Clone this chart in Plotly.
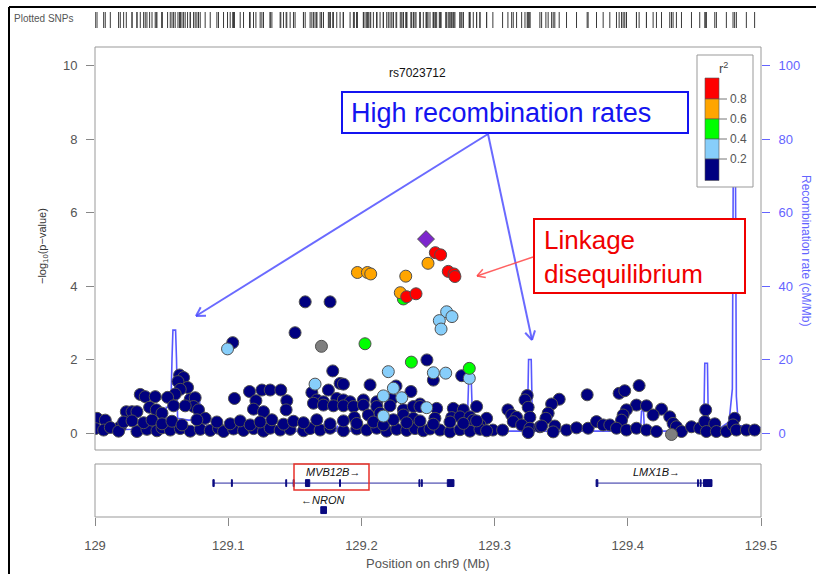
import plotly.graph_objects as go

W, H = 816, 574
FONT = "Liberation Sans, Arial, sans-serif"

# ---------------- data ----------------
navy_pos = [
    129.1578, 129.1765, 129.1502, 129.1034, 129.2492, 129.1785, 129.2753, 129.2540,
    129.0635, 129.0665, 129.0623, 129.0695, 129.0640, 129.0602,
    129.1752, 129.1840, 129.1865, 129.2065, 129.2260, 129.2372,
    129.1160, 129.1253, 129.1315, 129.1395, 129.1047, 129.1208, 129.1440,
    129.1190, 129.1265, 129.1435, 129.1628,
    129.0340, 129.0377, 129.0452, 129.0235, 129.0278, 129.0315,
    129.0410, 129.0460, 129.0503, 129.0715, 129.0752, 129.0740, 129.0777,
    129.0827, 129.0015, 129.0077, 129.0190, 129.0315,
    129.0545, 129.0590, 129.0677,
    129.1665, 129.1715, 129.1815, 129.1865, 129.1915, 129.2015, 129.2115, 129.2228, 129.2440,
    129.1640, 129.1715, 129.1790, 129.1865, 129.1940, 129.2015, 129.2115, 129.2215, 129.2315,
    129.2390, 129.2440, 129.2565, 129.2690, 129.2765, 129.2865, 129.2940,
    129.1947, 129.2052, 129.2140, 129.2315, 129.2390, 129.2552, 129.2678, 129.2740, 129.2815,
    129.2890, 129.2840, 129.2987, 129.3060, 129.3100, 129.3128, 129.3165, 129.3140,
    129.3245, 129.3228, 129.3252, 129.3265, 129.3203, 129.3265, 129.3340, 129.3252,
    129.3485, 129.3428, 129.3402, 129.3385, 129.3353, 129.3452, 129.3440,
    129.3540, 129.3615, 129.3702, 129.3765, 129.3815, 129.3865, 129.3695,
    129.3935, 129.3977, 129.4085, 129.4065, 129.4140, 129.3990, 129.3965, 129.3953,
    129.4253, 129.4190, 129.4315, 129.4340, 129.4365,
    129.3915, 129.3990, 129.4065, 129.4140, 129.4215, 129.4403, 129.4478, 129.4540,
    129.4585, 129.4578, 129.4653, 129.4590, 129.4665, 129.4740, 129.4802, 129.4790,
    129.4815, 129.4890, 129.4952,
    # bottom row
    129.0002, 129.0065, 129.0115, 129.0177, 129.0390, 129.0465, 129.0503, 129.0565,
    129.0640, 129.0715, 129.0790, 129.0865, 129.0927, 129.0965, 129.1040, 129.1115,
    129.1190, 129.1265, 129.1315, 129.1390, 129.1465, 129.1565, 129.1615, 129.1690,
    129.1765, 129.1865, 129.1965, 129.2040, 129.2115, 129.2190, 129.2265, 129.2340,
    129.2402, 129.2465, 129.2515, 129.2590, 129.2665, 129.2740, 129.2815, 129.2890,
    129.2940,
    # second row
    129.0215, 129.0278, 129.0365, 129.0428, 129.0503, 129.0578, 129.0653, 129.0765,
    129.0915, 129.1015, 129.1090, 129.1165, 129.1240, 129.1328, 129.1415, 129.1490,
    129.1565, 129.1665, 129.1765, 129.1865, 129.1965, 129.2090, 129.2165, 129.2240,
    129.2340, 129.2440, 129.2540, 129.2665, 129.2765, 129.2865,
]
navy_logp = [
    3.57, 3.57, 2.73, 2.46, 1.99, 1.69, 1.56, 1.44,
    1.58, 1.51, 1.40, 1.24, 1.19, 1.06,
    1.17, 1.35, 1.33, 1.31, 1.28, 1.13,
    1.13, 1.17, 1.17, 1.17, 0.94, 0.88, 0.88,
    0.65, 0.58, 0.63, 1.10,
    1.05, 0.99, 0.99, 0.58, 0.58, 0.58,
    0.70, 0.63, 0.54, 0.92, 0.96, 0.72, 0.63,
    0.40, 0.40, 0.35, 0.17, 0.04,
    0.97, 0.74, 0.74,
    0.90, 0.85, 0.94, 0.90, 0.85, 0.90, 0.85, 0.92, 0.79,
    0.81, 0.76, 0.74, 0.74, 0.72, 0.76, 0.72, 0.74, 0.63,
    0.72, 0.72, 0.67, 0.67, 0.63, 0.72, 0.40,
    0.42, 0.49, 0.54, 0.49, 0.40, 0.40, 0.42, 0.44, 0.44,
    0.22, 0.35, 0.08, 0.08, 0.63, 0.49, 0.43, 0.31,
    1.02, 0.90, 0.70, 0.43, 0.22, 0.13, 0.17, 0.01,
    0.92, 0.79, 0.54, 0.40, 0.19, 0.19, 0.03,
    0.08, 0.14, 0.13, 0.31, 0.22, 0.22, 1.04,
    1.08, 1.15, 1.29, 0.76, 0.74, 0.63, 0.49, 0.35,
    0.65, 0.49, 0.44, 0.26, 0.17,
    0.13, 0.08, 0.13, 0.08, 0.04, 0.04, 0.17, 0.13,
    0.63, 0.31, 0.25, 0.04, 0.04, 0.04, 0.40, 0.22,
    0.08, 0.08, 0.08,
    # bottom row
    0.12, 0.08, 0.15, 0.05, 0.10, 0.06, 0.14, 0.08,
    0.12, 0.05, 0.10, 0.07, 0.13, 0.04, 0.11, 0.07,
    0.12, 0.05, 0.13, 0.08, 0.10, 0.06, 0.12, 0.08,
    0.13, 0.06, 0.11, 0.08, 0.13, 0.05, 0.10, 0.07,
    0.12, 0.06, 0.11, 0.08, 0.03, 0.09, 0.05, 0.10,
    0.06,
    # second row
    0.30, 0.33, 0.28, 0.35, 0.25, 0.32, 0.22, 0.36,
    0.30, 0.25, 0.33, 0.22, 0.30, 0.36, 0.24, 0.32,
    0.28, 0.36, 0.25, 0.33, 0.26, 0.30, 0.22, 0.36,
    0.28, 0.33, 0.24, 0.30, 0.26, 0.33,
]

lightblue_pos = [129.0995, 129.2640, 129.2680, 129.2585, 129.2598, 129.2202, 129.2540, 129.2633,
                 129.2810, 129.1652, 129.2240, 129.2165, 129.2303, 129.2165, 129.2490]
lightblue_logp = [2.29, 3.30, 3.17, 3.06, 2.83, 1.67, 1.64, 1.63,
                  1.49, 1.33, 1.22, 1.01, 0.96, 0.46, 0.69]

green_pos = [129.2315, 129.2027, 129.2375, 129.2810]
green_logp = [3.65, 2.43, 1.93, 1.76]

orange_pos = [129.2500, 129.1970, 129.2045, 129.2070, 129.2333, 129.2292]
orange_logp = [4.62, 4.37, 4.37, 4.33, 4.27, 3.82]

red_pos = [129.2555, 129.2595, 129.2652, 129.2695, 129.2702, 129.2340, 129.2410]
red_logp = [4.91, 4.85, 4.40, 4.33, 4.26, 3.71, 3.79]

gray_pos = [129.1700, 129.4328]
gray_logp = [2.36, -0.04]

lead_snp = "rs7023712"
lead_pos = [129.2485]
lead_logp = [5.28]

rec_pos = [129.000, 129.020, 129.031, 129.0325, 129.034, 129.050, 129.053, 129.0535,
           129.0570, 129.0578, 129.0585, 129.0605, 129.0612, 129.0620, 129.0700, 129.0760,
           129.0765, 129.0785, 129.0792, 129.090, 129.120, 129.171, 129.172, 129.173,
           129.181, 129.182, 129.183, 129.196, 129.197, 129.198, 129.230, 129.270,
           129.276, 129.2795, 129.2805, 129.2825, 129.2835, 129.290, 129.310, 129.3245,
           129.3255, 129.3275, 129.3285, 129.340, 129.380, 129.4095, 129.4103, 129.4118,
           129.4125, 129.440, 129.455, 129.4570, 129.4578, 129.4598, 129.4605, 129.470,
           129.476, 129.4785, 129.4792, 129.4808, 129.4815, 129.483, 129.500]
rec_rate = [0.8, 1.0, 1.0, 2.2, 1.0, 1.5, 1.5, 7.0,
            7.0, 20, 28, 28, 20, 4.0, 3.5, 3.5,
            9.0, 9.0, 3.0, 1.0, 0.5, 0.5, 2.5, 0.5,
            0.5, 2.0, 0.5, 0.5, 2.0, 0.5, 0.6, 0.8,
            2.7, 2.7, 14, 14, 2.7, 1.0, 0.5, 0.5,
            20, 20, 0.5, 0.5, 0.5, 0.5, 6, 6,
            0.5, 0.5, 1.0, 1.0, 19, 19, 1.5, 1.5,
            3.0, 12, 75, 75, 10, 2.0, 1.5]

gene_labels = ["MVB12B\u2192", "\u2190NRON", "LMX1B\u2192"]
gene_start = [129.089, 129.1705, 129.3765]
gene_end = [129.269, 129.1725, 129.463]
gene_row = [0.64, 0.13, 0.64]
gene_label_pos = [129.1785, 129.1705, 129.4215]
gene_exons = [
    [(129.0885, 129.0895), (129.1024, 129.1031), (129.1432, 129.1439), (129.1488, 129.1495),
     (129.1580, 129.1612), (129.1836, 129.1843), (129.2432, 129.2439), (129.2450, 129.2457),
     (129.2645, 129.2695)],
    [(129.1695, 129.1738)],
    [(129.3762, 129.3775), (129.4524, 129.4530), (129.4544, 129.4550), (129.4568, 129.4632)],
]

x_ticks = [129.0, 129.1, 129.2, 129.3, 129.4, 129.5]
x_ticklabels = ["129", "129.1", "129.2", "129.3", "129.4", "129.5"]
logp_ticks = [0, 2, 4, 6, 8, 10]
rec_ticks = [0, 20, 40, 60, 80, 100]
ld_labels = ["0.8", "0.6", "0.4", "0.2"]
ld_colors = ["#FF0000", "#FFA500", "#00FF00", "#87CEFA", "#000080"]  # top to bottom

# ---------------- helpers for layout (pixel -> paper) ----------------
def px(x):
    return x / W


def py(y):
    return 1 - y / H


XD = [px(95), px(761)]
MAIN_YD = [py(450), py(47)]
GENE_YD = [py(517), py(464)]
RUG_YD = [py(28), py(12)]
LOGP_RANGE = [(433 - 450) / 36.73, (433 - 47) / 36.73]
REC_RANGE = [LOGP_RANGE[0] * 10, LOGP_RANGE[1] * 10]

REC_COLOR = "#6464FF"
OUTLINE = "#505050"

fig = go.Figure()

# recombination rate (base axis 'y', drawn underneath)
fig.add_trace(go.Scatter(x=rec_pos, y=rec_rate, mode="lines", xaxis="x", yaxis="y",
                         line=dict(color="rgba(70,70,255,0.9)", width=1.6), showlegend=False,
                         hoverinfo="skip"))

groups = [
    (navy_pos, navy_logp, "#000080"),
    (lightblue_pos, lightblue_logp, "#87CEFA"),
    (green_pos, green_logp, "#00FF00"),
    (orange_pos, orange_logp, "#FFA500"),
    (red_pos, red_logp, "#FF0000"),
    (gray_pos, gray_logp, "#7F7F7F"),
]
for xs, ys, col in groups:
    fig.add_trace(go.Scatter(x=xs, y=ys, mode="markers", xaxis="x", yaxis="y2",
                             marker=dict(size=12, color=col, line=dict(color=OUTLINE, width=1)),
                             showlegend=False, cliponaxis=True))
fig.add_trace(go.Scatter(x=lead_pos, y=lead_logp, mode="markers", xaxis="x", yaxis="y2",
                         marker=dict(size=13, symbol="diamond", color="#7D26CD",
                                     line=dict(color=OUTLINE, width=1)), showlegend=False))

# rug of plotted SNPs
all_pos = navy_pos + lightblue_pos + green_pos + orange_pos + red_pos + gray_pos + lead_pos
fig.add_trace(go.Scatter(x=all_pos, y=[0.5] * len(all_pos), mode="markers", xaxis="x", yaxis="y4",
                         marker=dict(symbol="line-ns", size=16, line=dict(color="#3a3a3a", width=1)),
                         showlegend=False, hoverinfo="skip"))

shapes = []
annotations = []


def note(x, y, text, size, color, xanchor="center", yanchor="middle", **kw):
    d = dict(xref="paper", yref="paper", x=x, y=y, text=text, showarrow=False,
             xanchor=xanchor, yanchor=yanchor, font=dict(size=size, color=color, family=FONT))
    d.update(kw)
    annotations.append(d)


# genes
for lab, s, e, row, lx, exons in zip(gene_labels, gene_start, gene_end, gene_row, gene_label_pos, gene_exons):
    fig.add_trace(go.Scatter(x=[s, e], y=[row, row], mode="lines", xaxis="x2", yaxis="y3",
                             line=dict(color="#2828A0", width=1), showlegend=False, hoverinfo="skip"))
    for ex0, ex1 in exons:
        shapes.append(dict(type="rect", xref="x2", yref="y3", x0=ex0, x1=ex1,
                           y0=row - 0.065, y1=row + 0.065, fillcolor="#0A0A80",
                           line=dict(color="#0A0A80", width=1)))
    annotations.append(dict(xref="x2", yref="y3", x=lx, y=row + 0.2, text="<i>" + lab + "</i>",
                            showarrow=False, xanchor="center", yanchor="middle",
                            font=dict(size=11, color="#111", family=FONT)))

# panel borders
shapes.append(dict(type="rect", xref="x domain", yref="y domain", x0=0, x1=1, y0=0, y1=1,
                   line=dict(color="#999", width=1), layer="above"))
shapes.append(dict(type="rect", xref="x2 domain", yref="y3 domain", x0=0, x1=1, y0=0, y1=1,
                   line=dict(color="#999", width=1), layer="above"))

# red box around MVB12B label
shapes.append(dict(type="rect", xref="paper", yref="paper", x0=px(294), x1=px(369), y0=py(490), y1=py(464),
                   line=dict(color="#E8302A", width=1.5)))

# outer black frame
shapes.append(dict(type="line", xref="paper", yref="paper", x0=px(9), x1=px(9), y0=py(7), y1=0,
                   line=dict(color="black", width=2)))
shapes.append(dict(type="line", xref="paper", yref="paper", x0=px(9), x1=1, y0=py(7), y1=py(7),
                   line=dict(color="black", width=2)))


def seg(x0, y0, x1, y1, color, width):
    shapes.append(dict(type="line", xref="paper", yref="paper", x0=px(x0), y0=py(y0), x1=px(x1), y1=py(y1),
                       line=dict(color=color, width=width), layer="above"))


# blue call-out
BLUE = "#1414F0"
ABLUE = "rgba(80,80,255,0.85)"
shapes.append(dict(type="rect", xref="paper", yref="paper", x0=px(342), x1=px(688), y0=py(133), y1=py(92),
                   line=dict(color=BLUE, width=2), fillcolor="white", layer="above"))
note(px(501), py(113), "High recombination rates", 27, BLUE)
seg(488, 134, 196, 316, ABLUE, 2)
seg(196, 316, 206, 315.7, ABLUE, 2)
seg(196, 316, 200.7, 307.2, ABLUE, 2)
seg(488, 134, 532, 340, ABLUE, 2)
seg(532, 340, 535, 330.4, ABLUE, 2)
seg(532, 340, 525.2, 332.7, ABLUE, 2)

# red call-out
RED = "#F00000"
shapes.append(dict(type="rect", xref="paper", yref="paper", x0=px(534), x1=px(745), y0=py(293), y1=py(219),
                   line=dict(color=RED, width=2), fillcolor="white", layer="above"))
note(px(542), py(257), "Linkage<br>disequilibrium", 26, RED, xanchor="left", align="left")
seg(533, 257, 477, 276, "rgba(255,70,70,0.85)", 1.5)
seg(477, 276, 485.8, 277.6, "rgba(255,70,70,0.85)", 1.5)
seg(477, 276, 482.8, 269.2, "rgba(255,70,70,0.85)", 1.5)

# LD legend
shapes.append(dict(type="rect", xref="paper", yref="paper", x0=px(697), x1=px(753), y0=py(187), y1=py(55),
                   line=dict(color="#999", width=1), fillcolor="white", layer="above"))
bounds = [78, 99, 119, 139, 159, 180.5]
for i, col in enumerate(ld_colors):
    shapes.append(dict(type="rect", xref="paper", yref="paper", x0=px(705), x1=px(719),
                       y0=py(bounds[i + 1]), y1=py(bounds[i]), fillcolor=col,
                       line=dict(color="#555", width=0.6), layer="above"))
for i, lab in enumerate(ld_labels):
    yb = bounds[i + 1]
    seg(719, yb, 727, yb, "#777", 1)
    note(px(728), py(yb), lab, 12, "#555", xanchor="left")
note(px(723), py(68), "r<sup>2</sup>", 13, "#444")

# texts
note(px(418), py(73), lead_snp, 12, "#111")
note(px(12), py(19), "Plotted SNPs", 10, "#555", xanchor="left")
note(px(43), py(246), "\u2212log<sub>10</sub>(p\u2212value)", 11, "#333", textangle=-90)
note(px(806), py(250), "Recombination rate (cM/Mb)", 12, REC_COLOR, textangle=90)
note(px(428), py(563), "Position on chr9 (Mb)", 13, "#555")

tickfont = dict(size=13, color="#555", family=FONT)
fig.update_layout(
    width=W, height=H, margin=dict(l=0, r=0, t=0, b=0),
    paper_bgcolor="white", plot_bgcolor="white", showlegend=False,
    font=dict(family=FONT),
    xaxis=dict(domain=XD, range=[129, 129.5], anchor="y", showticklabels=False, ticks="",
               showgrid=False, zeroline=False, showline=False, automargin=False),
    yaxis=dict(domain=MAIN_YD, range=REC_RANGE, side="right", anchor="x", tickvals=rec_ticks,
               ticks="outside", ticklen=8, tickcolor=REC_COLOR, tickwidth=1,
               tickfont=dict(size=13, color=REC_COLOR, family=FONT), ticklabelstandoff=6,
               showgrid=False, zeroline=False, showline=False, automargin=False),
    yaxis2=dict(overlaying="y", side="left", anchor="x", range=LOGP_RANGE, tickvals=logp_ticks,
                ticks="outside", ticklen=8, tickcolor="#888", tickwidth=1, tickfont=tickfont,
                ticklabelstandoff=6, showgrid=False, zeroline=False, showline=False, automargin=False),
    xaxis2=dict(domain=XD, range=[129, 129.5], anchor="y3", tickvals=x_ticks, ticktext=x_ticklabels,
                ticks="outside", ticklen=8, tickcolor="#888", tickwidth=1, tickfont=tickfont,
                ticklabelstandoff=8, showgrid=False, zeroline=False, showline=False, automargin=False),
    yaxis3=dict(domain=GENE_YD, range=[0, 1], anchor="x2", visible=False),
    yaxis4=dict(domain=RUG_YD, range=[0, 1], anchor="x", visible=False),
    shapes=shapes, annotations=annotations,
)

fig.write_html("out.html", config={"displayModeBar": False},
               post_script="document.body.style.margin='0';document.body.style.overflow='hidden';")
